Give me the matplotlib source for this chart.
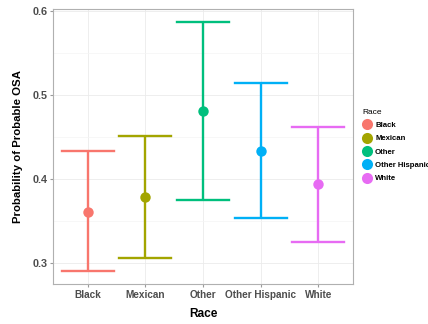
import matplotlib
matplotlib.use('Agg')
import matplotlib.pyplot as plt
from matplotlib.lines import Line2D

# estimated probability of probable OSA with confidence limits by race
races = ['Black', 'Mexican', 'Other', 'Other Hispanic', 'White']
prob = [0.361, 0.378, 0.481, 0.433, 0.394]
lower = [0.290, 0.306, 0.375, 0.353, 0.325]
upper = [0.433, 0.451, 0.587, 0.514, 0.462]
colors = ['#F8766D', '#A3A500', '#00BF7D', '#00B0F6', '#E76BF3']

plt.rcParams['font.family'] = ['Liberation Sans', 'DejaVu Sans']

fig = plt.figure(figsize=(4.28, 3.24), dpi=100)
ax = fig.add_axes([53/428., 1 - 284/324., 300/428., 275.5/324.])

xs = list(range(1, len(races) + 1))
for i, x in enumerate(xs):
    c = colors[i]
    ax.plot([x, x], [lower[i], upper[i]], color=c, lw=1.7, solid_capstyle='butt', zorder=3)
    ax.plot([x - 0.45, x + 0.45], [lower[i], lower[i]], color=c, lw=1.7, zorder=3)
    ax.plot([x - 0.45, x + 0.45], [upper[i], upper[i]], color=c, lw=1.7, zorder=3)
    ax.plot(x, prob[i], 'o', color=c, ms=7.5, mec='none', zorder=4)

ax.set_xlim(0.4, 5.6)
ax.set_ylim(0.275, 0.6026)
ax.set_xticks(xs)
ax.set_xticklabels(races)
ax.set_yticks([0.3, 0.4, 0.5, 0.6])
ax.set_yticks([0.35, 0.45, 0.55], minor=True)
ax.set_yticklabels(['0.3', '0.4', '0.5', '0.6'])

ax.grid(True, which='major', color='#ebebeb', lw=0.6)
ax.grid(True, which='minor', axis='y', color='#f4f4f4', lw=0.5)
ax.set_axisbelow(True)
for s in ax.spines.values():
    s.set_color('#b0b0b0')
    s.set_linewidth(0.8)
ax.tick_params(which='both', length=2.5, color='#9a9a9a', labelcolor='#4d4d4d', pad=1.5)
ax.tick_params(axis='x', labelsize=7.2)
ax.tick_params(axis='y', labelsize=7.8)
ax.tick_params(which='minor', length=0)
for t in ax.get_xticklabels() + ax.get_yticklabels():
    t.set_fontweight('bold')

ax.set_xlabel('Race', fontsize=8.6, fontweight='bold', labelpad=6)
ax.set_ylabel('Probability of Probable OSA', fontsize=8.2, fontweight='bold', labelpad=7)

handles = [Line2D([], [], ls='none', marker='o', ms=8, color=c, mec='none') for c in colors]
leg = fig.legend(handles, races, title='Race', loc='upper left',
                 bbox_to_anchor=(358/428., 1 - 105/324.), frameon=False,
                 fontsize=5.6, title_fontsize=6, handletextpad=0.3,
                 labelspacing=0.75, borderpad=0, handlelength=1.4)
leg._legend_box.align = 'left'
for t in leg.get_texts():
    t.set_fontweight('bold')

fig.savefig('out.png', dpi=100)
